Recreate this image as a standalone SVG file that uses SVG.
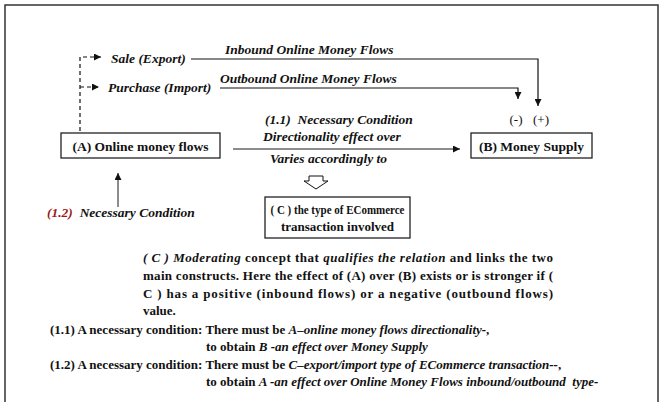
<svg xmlns="http://www.w3.org/2000/svg" width="663" height="402" viewBox="0 0 663 402">
<defs>
<style>
text{font-family:"Liberation Serif","Times New Roman",serif;fill:#111;}
.lb{font-size:13.5px;font-weight:bold;font-style:italic;}
.bx{font-size:13.5px;font-weight:bold;}
.p{font-size:13px;font-weight:bold;}
.i{font-style:italic;}
.box{fill:#fff;stroke:#222;stroke-width:1.3;}
.ln{fill:none;stroke:#111;stroke-width:1.2;}
.dash{fill:none;stroke:#111;stroke-width:1.2;stroke-dasharray:4 3;}
.gray{fill:none;stroke:#666;stroke-width:1.5;}
</style>
<marker id="ah" viewBox="0 0 10 10" refX="10" refY="5" markerWidth="8" markerHeight="7" markerUnits="userSpaceOnUse" orient="auto">
<path d="M0,0 L10,5 L0,10 z" fill="#111"/>
</marker>
</defs>
<rect width="663" height="402" fill="#fff"/>
<path d="M5,402 V5 H658 V402" fill="none" stroke="#333" stroke-width="1.5"/>

<g id="connectors">
<path class="dash" d="M80,131 V57 H101" marker-end="url(#ah)"/>
<path class="dash" d="M80,87 H99" marker-end="url(#ah)"/>
<path class="ln" d="M191,59 H538 V106" marker-end="url(#ah)"/>
<path class="ln" d="M220,88 H518 V99" marker-end="url(#ah)"/>
<path class="gray" d="M233,149 H460" marker-end="url(#ah)"/>
<path class="gray" d="M118,207 V173" marker-end="url(#ah)"/>
<polygon points="309,176 323,176 323,181 328,181 316,189 304,181 309,181" fill="#fff" stroke="#111" stroke-width="1"/>
</g>

<g id="labels">
<text class="lb" x="111" y="63">Sale (Export)</text>
<text class="lb" x="225" y="54">Inbound Online Money Flows</text>
<text class="lb" x="108" y="92">Purchase (Import)</text>
<text class="lb" x="220" y="83">Outbound Online Money Flows</text>
<text class="lb" x="265" y="124" xml:space="preserve">(1.1)  Necessary Condition</text>
<text class="lb" x="263" y="141">Directionality effect over</text>
<text class="lb" x="270" y="163">Varies accordingly to</text>
<text x="516" y="124" text-anchor="middle" style="font-size:13px">(-)</text>
<text x="541" y="124" text-anchor="middle" style="font-size:13px">(+)</text>
<text class="lb" x="47" y="217" xml:space="preserve"><tspan style="fill:#a01818">(1.2)</tspan>  Necessary Condition</text>
</g>

<g id="nodeA">
<rect class="box" x="61" y="133" width="159" height="25"/>
<text class="bx" x="140.5" y="150.5" text-anchor="middle">(A) Online money flows</text>
</g>
<g id="nodeB">
<rect class="box" x="471" y="133" width="121" height="25"/>
<text class="bx" x="531.5" y="150.5" text-anchor="middle">(B) Money Supply</text>
</g>
<g id="nodeC">
<rect class="box" x="265" y="197" width="145" height="41"/>
<text class="bx" x="337.5" y="214" text-anchor="middle" textLength="134" lengthAdjust="spacingAndGlyphs" style="font-size:13px">( C ) the type of ECommerce</text>
<text class="bx" x="337.5" y="231" text-anchor="middle" style="font-size:13px">transaction involved</text>
</g>

<g id="description">
<text class="p" x="143" y="262" textLength="410" lengthAdjust="spacing"><tspan class="i">( C ) Moderating</tspan> concept that <tspan class="i">qualifies the relation</tspan> and links the two</text>
<text class="p" x="143" y="280" textLength="410" lengthAdjust="spacing">main constructs. Here the effect of (A) over (B) exists or is stronger if (</text>
<text class="p" x="143" y="298" textLength="410" lengthAdjust="spacing">C ) has a positive (inbound flows) or a negative (outbound flows)</text>
<text class="p" x="143" y="315">value.</text>
<text class="p" x="50" y="334">(1.1) A necessary condition: There must be <tspan class="i">A–online money flows directionality-</tspan>,</text>
<text class="p" x="206" y="351">to obtain <tspan class="i">B -an effect over Money Supply</tspan></text>
<text class="p" x="50" y="369">(1.2) A necessary condition: There must be <tspan class="i">C–export/import type of ECommerce transaction--</tspan>,</text>
<text class="p" x="206" y="386" xml:space="preserve">to obtain <tspan class="i">A -an effect over Online Money Flows inbound/outbound  type-</tspan></text>
</g>
</svg>
